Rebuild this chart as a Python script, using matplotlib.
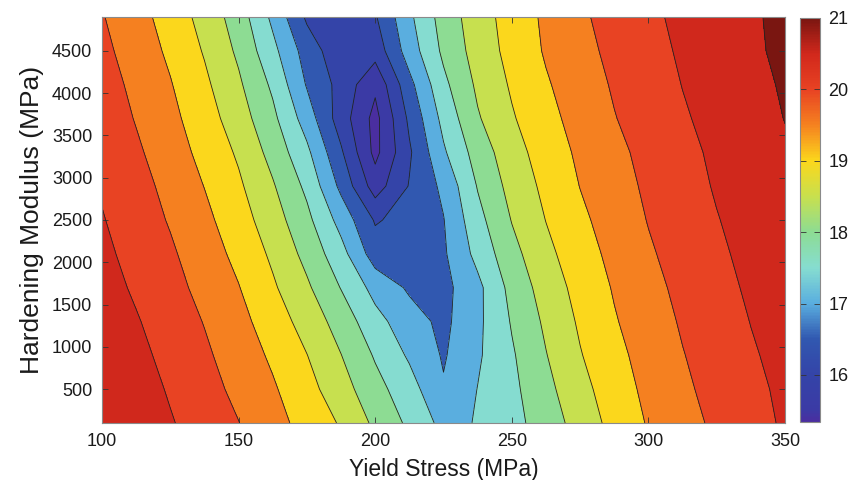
import numpy as np
import matplotlib
matplotlib.use("Agg")
import matplotlib.pyplot as plt
from matplotlib.colors import LinearSegmentedColormap, Normalize
from matplotlib.cm import ScalarMappable

plt.rcParams['font.family'] = ['Liberation Sans', 'DejaVu Sans']

# response surface sampled on the (yield stress, hardening modulus) grid
yield_stress = [100, 112.5, 125, 137.5, 150, 162.5, 175, 187.5, 200, 212.5, 225,
                237.5, 250, 262.5, 275, 287.5, 300, 312.5, 325, 337.5, 350]
hardening = [100, 500, 900, 1300, 1700, 2100, 2500, 2900, 3300, 3700, 4100, 4500, 4900]

z_rows = [
    [20.95, 20.80, 20.54, 20.27, 20.01, 19.67, 19.33, 18.95, 18.40, 17.90, 17.35, 17.53, 17.84, 18.23, 18.71, 19.16, 19.54, 19.83, 20.09, 20.33, 20.56],
    [20.97, 20.73, 20.45, 20.18, 19.88, 19.56, 19.17, 18.71, 18.17, 17.71, 17.05, 17.51, 17.88, 18.36, 18.84, 19.26, 19.62, 19.91, 20.16, 20.39, 20.59],
    [20.91, 20.63, 20.36, 20.08, 19.77, 19.42, 19.01, 18.51, 17.95, 17.43, 16.95, 17.43, 17.94, 18.48, 18.97, 19.36, 19.69, 19.98, 20.22, 20.45, 20.64],
    [20.81, 20.54, 20.26, 19.98, 19.65, 19.26, 18.80, 18.29, 17.67, 17.21, 16.88, 17.39, 18.04, 18.59, 19.07, 19.46, 19.77, 20.05, 20.28, 20.51, 20.69],
    [20.70, 20.43, 20.16, 19.86, 19.52, 19.07, 18.58, 17.98, 17.33, 16.93, 16.85, 17.37, 18.16, 18.72, 19.17, 19.54, 19.85, 20.12, 20.35, 20.57, 20.75],
    [20.61, 20.34, 20.07, 19.74, 19.37, 18.91, 18.35, 17.68, 16.75, 16.60, 16.93, 17.65, 18.34, 18.87, 19.29, 19.63, 19.94, 20.19, 20.42, 20.62, 20.80],
    [20.53, 20.25, 19.96, 19.62, 19.22, 18.73, 18.13, 17.32, 16.45, 16.68, 16.98, 17.84, 18.52, 19.01, 19.40, 19.72, 20.02, 20.25, 20.48, 20.67, 20.84],
    [20.45, 20.19, 19.85, 19.49, 19.08, 18.55, 17.89, 16.88, 15.76, 16.53, 17.11, 18.03, 18.67, 19.12, 19.51, 19.81, 20.08, 20.32, 20.54, 20.72, 20.89],
    [20.38, 20.08, 19.73, 19.36, 18.93, 18.33, 17.61, 16.57, 15.36, 16.43, 17.43, 18.22, 18.80, 19.23, 19.59, 19.88, 20.14, 20.38, 20.58, 20.76, 20.94],
    [20.31, 19.97, 19.63, 19.23, 18.74, 18.12, 17.27, 16.25, 15.34, 16.60, 17.65, 18.45, 18.95, 19.35, 19.68, 19.98, 20.22, 20.45, 20.64, 20.82, 21.01],
    [20.22, 19.88, 19.53, 19.10, 18.58, 17.91, 16.96, 16.33, 15.60, 16.85, 17.88, 18.59, 19.06, 19.45, 19.76, 20.05, 20.28, 20.51, 20.69, 20.87, 21.05],
    [20.12, 19.78, 19.41, 18.96, 18.41, 17.64, 16.78, 16.15, 16.20, 17.24, 18.10, 18.71, 19.16, 19.55, 19.85, 20.12, 20.35, 20.56, 20.74, 20.92, 21.10],
    [20.03, 19.69, 19.29, 18.83, 18.26, 17.39, 16.42, 16.25, 16.45, 17.40, 18.21, 18.77, 19.21, 19.59, 19.92, 20.18, 20.41, 20.60, 20.77, 20.94, 21.11],
]

contour_levels = [15.5, 16.0, 16.5, 17.0, 17.5, 18.0, 18.5, 19.0, 19.5, 20.0, 20.5, 21.0]
cbar_ticks = [16, 17, 18, 19, 20, 21]

# colour scale anchors (value -> colour)
cmap_values = [15.34, 15.5, 16.0, 16.5, 17.0, 17.5, 18.0, 18.5, 19.0, 19.5, 20.0, 20.5, 21.0]
cmap_colors = ['#4a2ea0', '#3b3aa5', '#3444a8', '#3158b0', '#5aaedf', '#86ddd0', '#8ddc93',
               '#c8e04e', '#fbd71c', '#f58220', '#e84323', '#d2281c', '#7a1611']

z = np.array(z_rows)
X, Y = np.meshgrid(yield_stress, hardening)

norm = Normalize(vmin=z.min(), vmax=21.0)
cmap = LinearSegmentedColormap.from_list(
    'surface', list(zip([float(norm(v)) for v in cmap_values], cmap_colors)))

# each filled band takes the colour of its lower level
bounds = [z.min() - 0.01] + contour_levels + [z.max() + 0.01]
band_colors = [cmap(norm(z.min()))] + [cmap(norm(lv)) for lv in contour_levels]

fig = plt.figure(figsize=(8.56, 4.8), dpi=100)
ax = fig.add_axes([102 / 856, 1 - 423 / 480, 683 / 856, 406 / 480])
cax = fig.add_axes([800 / 856, 1 - 422 / 480, 20 / 856, 404 / 480])

ax.contourf(X, Y, z, levels=bounds, colors=band_colors)
ax.contour(X, Y, z, levels=contour_levels, colors='#222222', linewidths=0.6)

ax.set_xlim(100, 350)
ax.set_ylim(100, 4900)
ax.set_xticks([100, 150, 200, 250, 300, 350])
ax.set_yticks([500, 1000, 1500, 2000, 2500, 3000, 3500, 4000, 4500])
ax.tick_params(direction='in', top=True, right=True, length=4, width=0.6,
               labelsize=13, pad=7, color='#333333', labelcolor='#1a1a1a')
for s in ax.spines.values():
    s.set_edgecolor('#8a8a8a')
    s.set_linewidth(0.8)
ax.set_xlabel('Yield Stress (MPa)', fontsize=16.5, color='#1a1a1a', labelpad=6)
ax.set_ylabel('Hardening Modulus (MPa)', fontsize=19, color='#1a1a1a', labelpad=6)

cb = fig.colorbar(ScalarMappable(norm=norm, cmap=cmap), cax=cax, ticks=cbar_ticks)
cb.outline.set_edgecolor('#8a8a8a')
cb.outline.set_linewidth(0.8)
cax.tick_params(direction='in', left=True, right=True, length=4, width=0.6,
                labelsize=13, pad=6, color='#333333', labelcolor='#1a1a1a')

fig.savefig('out.png', dpi=100)
